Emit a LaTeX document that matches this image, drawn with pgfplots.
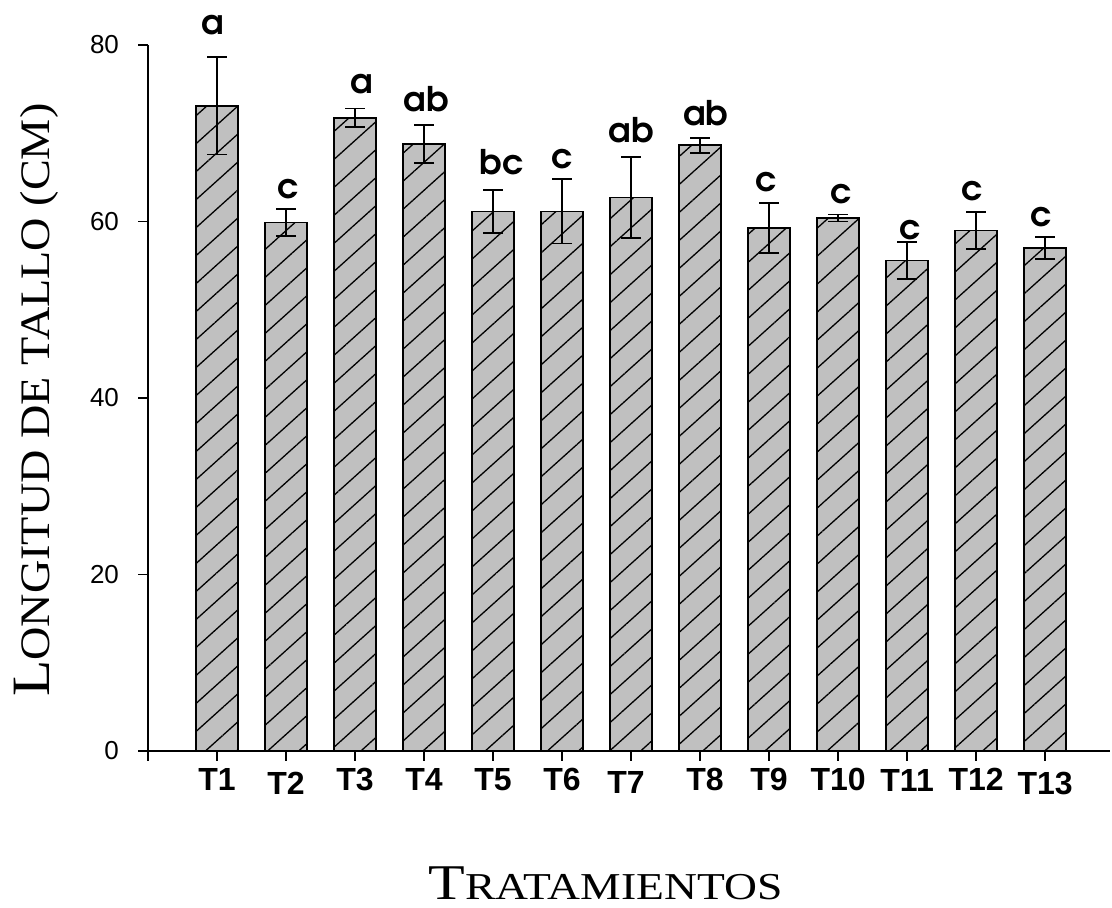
\documentclass[border=0pt]{standalone}
\usepackage{fontspec}
\usepackage{graphicx}
\usepackage{pgfplots}
\usepackage{pgfplotstable}
\pgfplotsset{compat=1.18}
\usetikzlibrary{patterns.meta}
\setmainfont{Liberation Sans}
\newfontfamily\serifsc{Liberation Serif}
\newfontfamily\lettfont{texgyreadventor-bold}[Extension=.otf]
\definecolor{barfill}{RGB}{192,192,192}
\newcommand{\dn}[2]{\raisebox{-#1}[\height][\depth]{#2}}

\pgfplotstableread{
x y e
1 73.1 5.5
2 59.9 1.5
3 71.75 1.05
4 68.8 2.15
5 61.15 2.45
6 61.15 3.65
7 62.7 4.6
8 68.65 0.85
9 59.25 2.85
10 60.4 0.4
11 55.6 2.1
12 58.98 2.12
13 57.0 1.22
}\datatable

\begin{document}
\begin{tikzpicture}
\begin{axis}[
  at={(74pt,78.5pt)}, anchor=south west,
  scale only axis, width=481pt, height=353pt,
  xmin=0, xmax=13.94, ymin=0, ymax=80,
  clip=false,
  axis lines=left,
  axis line style={-, line width=0.8pt},
  ybar, bar width=21pt,
  xtick={0,1,2,3,4,5,6,7,8,9,10,11,12,13},
  xticklabels={{},{T1},{\dn{2pt}{T2}},{T3},{T4},{T5},{T6},{\dn{1.6pt}{T7}\hspace*{5pt}},{\hspace*{5pt}T8},{T9},{T10},{\dn{0.8pt}{T11}},{T12},{\dn{2pt}{T13}}},
  ytick={0,20,40,60,80},
  tick align=outside,
  major tick length=5pt,
  tick style={line width=0.8pt, black},
  xticklabel style={font=\bfseries\fontsize{16}{16}\selectfont},
  yticklabel style={font=\fontsize{13}{13}\selectfont, xshift=-6pt},
  /pgf/number format/assume math mode=true,
  xlabel={\scalebox{1.2}[1]{\serifsc\fontsize{25}{25}\selectfont T\fontsize{19}{19}\selectfont RATAMIENTOS}},
  ylabel={\scalebox{1.1}[1]{\serifsc\fontsize{27}{27}\selectfont L\fontsize{21}{21}\selectfont ONGITUD DE TALLO (CM)}},
  xlabel style={at={(axis description cs:0.4756,-0.211)}, anchor=base, text depth=0pt},
  ylabel style={at={(axis description cs:-0.1019,0.497)}, anchor=base},
]
\addplot[draw=black, line width=0.8pt, fill=barfill,
  postaction={pattern={Lines[angle=42,distance=10.4pt,line width=0.65pt]}, pattern color=black},
  error bars/.cd, y dir=both, y explicit,
  error bar style={line width=0.9pt, black},
  error mark options={rotate=90, mark size=5pt, line width=0.9pt, black}]
  table[x=x, y=y, y error=e]{\datatable};

\node[anchor=base, font=\lettfont\fontsize{17}{17}\selectfont] at (axis cs:0.94,81.2) {a};
\node[anchor=base, font=\lettfont\fontsize{17}{17}\selectfont] at (axis cs:2.03,62.55) {c};
\node[anchor=base, font=\lettfont\fontsize{17}{17}\selectfont] at (axis cs:3.09,74.5) {a};
\node[anchor=base, font=\lettfont\fontsize{17}{17}\selectfont] at (axis cs:4.03,72.5) {ab};
\node[anchor=base, font=\lettfont\fontsize{17}{17}\selectfont] at (axis cs:5.13,65.3) {bc};
\node[anchor=base, font=\lettfont\fontsize{17}{17}\selectfont] at (axis cs:6.0,66.06) {c};
\node[anchor=base, font=\lettfont\fontsize{17}{17}\selectfont] at (axis cs:7.0,68.9) {ab};
\node[anchor=base, font=\lettfont\fontsize{17}{17}\selectfont] at (axis cs:8.08,70.9) {ab};
\node[anchor=base, font=\lettfont\fontsize{17}{17}\selectfont] at (axis cs:8.96,63.4) {c};
\node[anchor=base, font=\lettfont\fontsize{17}{17}\selectfont] at (axis cs:10.05,62.05) {c};
\node[anchor=base, font=\lettfont\fontsize{17}{17}\selectfont] at (axis cs:11.05,58.0) {c};
\node[anchor=base, font=\lettfont\fontsize{17}{17}\selectfont] at (axis cs:11.95,62.4) {c};
\node[anchor=base, font=\lettfont\fontsize{17}{17}\selectfont] at (axis cs:12.95,59.4) {c};
\end{axis}
\pgfresetboundingbox
\path (0,0) rectangle (556pt,454pt);
\end{tikzpicture}
\end{document}
